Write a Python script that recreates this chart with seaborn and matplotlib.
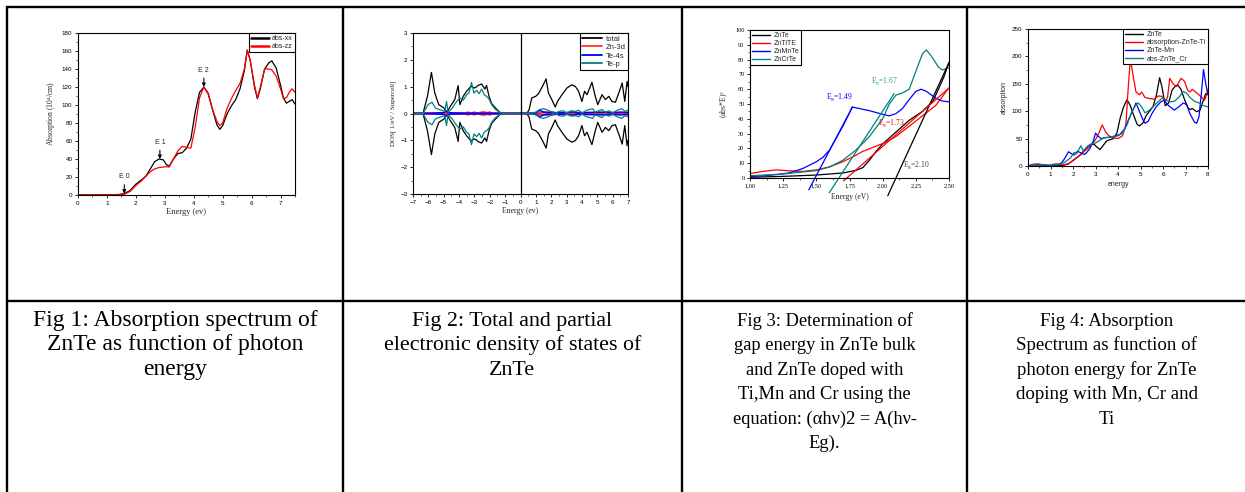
import numpy as np
import matplotlib
matplotlib.use("Agg")
import matplotlib.pyplot as plt
from matplotlib.lines import Line2D
from matplotlib.ticker import AutoMinorLocator, MultipleLocator, FuncFormatter
import seaborn as sns

# ---------------- data ----------------
# Fig 1: absorption spectrum of ZnTe (10^4 /cm) vs photon energy (eV)
e1 = [0, 1.0, 1.4, 1.6, 1.8, 2.0, 2.2, 2.35, 2.5, 2.65, 2.8, 2.95, 3.05, 3.15, 3.3, 3.45,
      3.6, 3.75, 3.9, 4.05, 4.2, 4.35, 4.5, 4.65, 4.8, 4.9, 5.0, 5.15, 5.3, 5.45, 5.6,
      5.75, 5.85, 5.95, 6.1, 6.2, 6.3, 6.45, 6.6, 6.7, 6.85, 7.0, 7.1, 7.2, 7.3, 7.4, 7.5]
abs_xx = [0, 0.3, 0.5, 1.5, 5, 12, 17, 21, 29, 37, 40, 39, 34, 32, 40, 46,
          47, 52, 62, 92, 114, 120, 113, 95, 78, 73, 77, 90, 99, 106, 118,
          138, 161, 150, 120, 107, 118, 140, 147, 149, 141, 122, 108, 102, 104, 106, 101]
abs_zz = [0, 0.2, 0.3, 0.8, 4, 10.5, 16, 21, 26, 29, 30.5, 31, 31.5, 31, 40, 49,
          54, 53, 52, 75, 108, 120, 112, 95, 82, 77, 80, 96, 107, 116, 124,
          140, 161, 150, 122, 108, 120, 140, 140, 139, 132, 118, 107, 108, 114, 118, 114]
peak_names = ["E 0", "E 1", "E 2"]
peak_energy = [1.6, 2.83, 4.35]
peak_abs = [1.5, 40, 120]

# Fig 2: total and partial DOS (states/eV/supercell), spin up mirrored for spin down
dos_total_e = [-7, -6.35, -6.06, -5.8, -5.58, -5.32, -4.97, -4.82, -4.6, -4.28, -4.06, -3.95,
               -3.73, -3.51, -3.23, -2.97, -2.75, -2.53, -2.32, -2.21, -2.05, -1.88, -1.62,
               -1.34, -1.12, 0.41, 0.56, 0.73, 0.99, 1.17, 1.43, 1.67, 1.82, 2.04, 2.26, 2.41,
               2.7, 3.02, 3.35, 3.57, 3.78, 4.0, 4.17, 4.33, 4.65, 4.87, 5.03, 5.31, 5.53,
               5.75, 5.96, 6.18, 6.44, 6.62, 6.79, 6.94, 7.0]
dos_total = [0, 0, 0.64, 1.53, 0.76, 0.33, 0.2, 0, 0.24, 0.52, 1.04, 0.33,
             0.64, 0.83, 1.01, 0.95, 1.05, 1.1, 0.91, 1.04, 0.64, 0.37, 0.2,
             0.04, 0, 0, 0.14, 0.58, 0.64, 0.74, 1.01, 1.29, 0.76, 0.52, 0.24, 0.45,
             0.7, 0.95, 1.07, 1.01, 0.83, 0.45, 0.83, 0.7, 1.16, 0.64, 0.33, 0.7, 0.52,
             0.64, 0.45, 0.42, 0.83, 1.14, 0.45, 1.2, 1.0]
dos_tep_e = [-7, -6.35, -6.02, -5.76, -5.54, -5.15, -4.93, -4.82, -4.71, -4.45, -4.23, -3.95,
             -3.73, -3.51, -3.36, -3.19, -3.03, -2.86, -2.69, -2.53, -2.36, -2.21, -2.05,
             -1.88, -1.66, -1.34, -1.12, 0.5, 1.0, 1.25, 1.5, 1.8, 2.05, 2.3, 2.5, 2.8, 3.0,
             3.3, 3.6, 3.8, 4.0, 4.3, 4.5, 4.7, 4.85, 5.0, 5.3, 5.5, 5.75, 6.0, 6.3, 6.6,
             6.8, 7.0]
dos_tep = [0, 0, 0.33, 0.42, 0.2, 0.12, 0.08, 0.45, 0.04, 0.2, 0.39, 0.58,
           0.49, 0.7, 0.76, 1.16, 0.76, 0.86, 0.74, 0.91, 0.7, 0.64, 0.54,
           0.33, 0.17, 0.03, 0, 0, 0.05, 0.15, 0.18, 0.12, 0.05, 0.0, 0.08, 0.1, 0.02,
           0.1, 0.08, 0.12, 0.02, 0.12, 0.15, 0.18, 0.05, 0.08, 0.15, 0.05, 0.1, 0.03, 0.12, 0.18,
           0.08, 0.12]
dos_te4s_e = [-7, -6.3, -5.5, -5.0, -4.85, -4.7, -4.3, -3.5, -2.0, -1.2, 0.5, 1.0, 1.25, 1.5,
              2.0, 3.0, 3.4, 3.8, 4.5, 5.5, 6.0, 6.5, 7.0]
dos_te4s = [0, 0, 0.02, 0.03, 0.1, 0.03, 0.02, 0.01, 0.01, 0, 0, 0.03, 0.12, 0.05,
            0.03, 0.03, 0.06, 0.02, 0.04, 0.05, 0.03, 0.05, 0.04]
dos_zn3d_e = [-7, -3.6, -3.4, -3.2, -3.0, -2.8, -2.6, -2.4, -2.2, -2.0, -1.8, -1.2, 0.5, 1.2,
              1.5, 1.8, 2.1, 2.3, 3.0, 3.3, 4.0, 5.0, 7.0]
dos_zn3d = [0, 0, 0.04, 0.0, 0.04, 0.0, 0.03, 0.05, 0.02, 0.04, 0, 0, 0, 0.02,
            0.05, 0.03, 0.05, 0.01, 0.02, 0.03, 0.02, 0.02, 0.02]

# Fig 3: Tauc plot (abs*E)^2 vs energy
tauc_names = ["ZnTe", "ZnTiTE", "ZnMnTe", "ZnCrTe"]
tauc_colors = ["#000000", "#ff0000", "#0000ff", "#008080"]
tauc_e = [
    [1.0, 1.25, 1.5, 1.7, 1.8, 1.85, 1.9, 1.95, 2.0, 2.05, 2.1, 2.15, 2.2, 2.3, 2.38, 2.42, 2.46, 2.5],
    [1.0, 1.1, 1.2, 1.3, 1.4, 1.5, 1.6, 1.7, 1.78, 1.85, 1.95, 2.02, 2.1, 2.2, 2.3, 2.4, 2.5],
    [1.0, 1.1, 1.2, 1.3, 1.4, 1.5, 1.55, 1.6, 1.65, 1.7, 1.75, 1.77, 1.82, 1.9, 2.0, 2.05, 2.1,
     2.15, 2.2, 2.25, 2.29, 2.33, 2.4, 2.45, 2.5],
    [1.0, 1.25, 1.5, 1.6, 1.7, 1.8, 1.9, 2.0, 2.05, 2.1, 2.15, 2.2, 2.25, 2.3, 2.33, 2.37, 2.42,
     2.45, 2.5],
]
tauc_y = [
    [0.5, 1.1, 2.0, 3.4, 5.2, 7, 12, 18, 23, 27, 31, 35, 39, 45, 52, 60, 68, 78],
    [3, 4.5, 5.5, 4.8, 4.5, 5.5, 7.5, 11, 14.5, 18, 21.5, 24, 28, 35, 42, 49, 61],
    [1, 1.5, 2.3, 3.5, 6.5, 11, 14, 19, 27, 35, 44, 48, 47, 45.5, 43, 42, 43.5,
     47, 53, 58.5, 60, 58.5, 54, 52, 51.5],
    [1.5, 2.7, 5, 7.5, 12, 19, 28, 40, 50, 56, 57.5, 60, 72, 84, 86.5, 82, 75,
     73, 74.5],
]
# linear extrapolation of each absorption edge: gap energy, slope, y span drawn
gap_energy = [2.10, 1.73, 1.49, 1.67]
edge_slope = [195, 79, 170, 137]
edge_span = [(-12, 78), (-2, 61), (-8, 48), (-10, 57)]
gap_label_pos = [(2.15, 4.5), (1.965, 33), (1.575, 51), (1.91, 61.5)]
gap_label_colors = ["#404040", "#ff0000", "#0000ff", "#2a9a9a"]

# Fig 4: absorption of pure and doped ZnTe
abs4_names = ["ZnTe", "absorption-ZnTe-Ti", "ZnTe-Mn", "abs-ZnTe_Cr"]
abs4_colors = ["#000000", "#ff0000", "#0000ff", "#008080"]
abs4_e = [
    [0, 1.0, 1.4, 1.6, 1.8, 2.0, 2.2, 2.35, 2.5, 2.65, 2.8, 2.95, 3.05, 3.2, 3.35, 3.5, 3.65,
     3.8, 3.95, 4.1, 4.25, 4.4, 4.55, 4.7, 4.85, 4.95, 5.1, 5.25, 5.4, 5.55, 5.7, 5.85, 5.95,
     6.1, 6.25, 6.4, 6.55, 6.65, 6.8, 6.95, 7.1, 7.2, 7.3, 7.5, 7.65, 7.8, 7.9, 8.0],
    [0, 0.3, 0.6, 0.9, 1.1, 1.25, 1.5, 1.8, 2.0, 2.3, 2.6, 2.8, 3.0, 3.15, 3.3, 3.45, 3.6,
     3.8, 4.0, 4.2, 4.35, 4.45, 4.55, 4.65, 4.8, 4.95, 5.05, 5.2, 5.4, 5.6, 5.8, 5.95, 6.1,
     6.2, 6.3, 6.45, 6.6, 6.8, 6.95, 7.1, 7.2, 7.3, 7.45, 7.6, 7.85, 7.95, 8.0],
    [0, 0.2, 0.45, 0.7, 1.0, 1.3, 1.5, 1.65, 1.8, 1.95, 2.05, 2.2, 2.35, 2.5, 2.6, 2.75, 2.9,
     3.0, 3.1, 3.25, 3.5, 3.7, 3.9, 4.1, 4.3, 4.5, 4.7, 4.8, 4.95, 5.1, 5.2, 5.35, 5.5, 5.7,
     5.9, 6.05, 6.25, 6.5, 6.7, 6.9, 7.05, 7.2, 7.4, 7.5, 7.6, 7.7, 7.8, 7.9, 8.0],
    [0, 0.2, 0.4, 0.7, 1.0, 1.3, 1.6, 1.9, 2.05, 2.15, 2.35, 2.45, 2.6, 2.8, 3.0, 3.2, 3.4,
     3.6, 3.8, 4.0, 4.2, 4.4, 4.6, 4.8, 4.9, 5.05, 5.2, 5.4, 5.6, 5.8, 6.0, 6.15, 6.3, 6.5,
     6.7, 6.9, 7.05, 7.2, 7.4, 7.6, 7.8, 8.0],
]
abs4_y = [
    [0, 0.3, 0.5, 1.5, 4, 10, 16, 21, 29, 36, 40, 39, 35, 30, 38, 46, 48,
     50, 60, 88, 108, 121, 110, 92, 76, 73, 78, 92, 100, 108, 128, 161, 145,
     110, 115, 138, 146, 148, 140, 122, 107, 103, 105, 99, 102, 121, 132, 130],
    [0, 1, 2, 1, 3, 4, 2, 4, 10, 20, 30, 38, 48, 60, 75, 62, 55,
     52, 50, 55, 75, 140, 196, 170, 135, 130, 135, 125, 123, 122, 128, 127, 118,
     125, 160, 150, 145, 160, 155, 138, 135, 140, 135, 130, 120, 132, 140],
    [0, 3, 3.5, 2, 0, 2, 6, 15, 26, 22, 20, 27, 24, 21, 24, 32, 45,
     60, 55, 50, 52, 53, 55, 58, 68, 88, 105, 115, 100, 85, 78, 82, 95, 108,
     117, 120, 110, 102, 108, 115, 112, 95, 80, 78, 90, 130, 176, 150, 130],
    [0, 2, 3.5, 2.5, 1.5, 2.5, 6, 15, 25, 22, 37, 28, 33, 40, 42, 47, 52,
     52, 54, 55, 60, 75, 98, 112, 115, 108, 97, 102, 110, 118, 125, 120, 117, 118,
     125, 136, 133, 125, 118, 115, 110, 108],
]

captions = [
    ["Fig 1: Absorption spectrum of", "ZnTe as function of photon", "energy"],
    ["Fig 2: Total and partial", "electronic density of states of", "ZnTe"],
    ["Fig 3: Determination of", "gap energy in ZnTe bulk", "and ZnTe doped with",
     "Ti,Mn and Cr using the", "equation: (\u03b1h\u03bd)2 = A(h\u03bd-", "Eg)."],
    ["Fig 4: Absorption", "Spectrum as function of", "photon energy for ZnTe",
     "doping with Mn, Cr and", "Ti"],
]
caption_sizes = [17.0, 15.8, 13.3, 13.6]

# ---------------- styling ----------------
sns.set_theme(style="ticks")
plt.rcParams["font.family"] = ["Liberation Sans", "DejaVu Sans"]
plt.rcParams["axes.linewidth"] = 0.8
plt.rcParams["mathtext.default"] = "regular"

W, H = 1245, 492
fig = plt.figure(figsize=(W / 100, H / 100), dpi=100)
fig.patch.set_facecolor("white")


def px_axes(left, top, right, bottom):
    return fig.add_axes([left / W, 1 - bottom / H, (right - left) / W, (bottom - top) / H])


def style_axes(ax, serif_ticks=False):
    ax.set_facecolor("white")
    for s in ax.spines.values():
        s.set_visible(True)
        s.set_color("black")
        s.set_linewidth(0.8)
    ax.xaxis.set_minor_locator(AutoMinorLocator(2))
    ax.yaxis.set_minor_locator(AutoMinorLocator(2))
    ax.tick_params(which="major", direction="out", length=2.5, width=0.6, labelsize=4.5,
                   pad=1.5, colors="black")
    ax.tick_params(which="minor", direction="out", length=1.4, width=0.5)
    fam = "Liberation Serif" if serif_ticks else "Liberation Sans"
    for lab in ax.get_xticklabels() + ax.get_yticklabels():
        lab.set_fontfamily(fam)


def boxed_legend(ax, loc, fontsize=5, handle_lw=None):
    leg = ax.legend(loc=loc, fontsize=fontsize, frameon=True, fancybox=False,
                    edgecolor="black", framealpha=1, borderaxespad=0, borderpad=0.3,
                    labelspacing=0.15, handlelength=2.6, handletextpad=0.5)
    leg.get_frame().set_linewidth(0.8)
    if handle_lw is not None:
        for h in leg.get_lines():
            h.set_linewidth(handle_lw)
    return leg


serif = "Liberation Serif"

# ---------------- Fig 1 ----------------
ax1 = px_axes(78, 33, 295, 195)
sns.lineplot(x=e1, y=abs_xx, ax=ax1, color="black", linewidth=0.9, label="abs-xx")
sns.lineplot(x=e1, y=abs_zz, ax=ax1, color="#ff0000", linewidth=0.9, label="abs-zz")
ax1.set_xlim(0, 7.5)
ax1.set_ylim(0, 180)
ax1.xaxis.set_major_locator(MultipleLocator(1))
ax1.yaxis.set_major_locator(MultipleLocator(20))
style_axes(ax1)
ax1.set_xlabel("Energy (ev)", fontsize=6, family=serif, labelpad=2)
ax1.set_ylabel("Absorption (10$^4$/cm)", fontsize=5.5, family=serif, labelpad=3)
boxed_legend(ax1, "upper right", fontsize=5, handle_lw=1.8)
for name, ex, ey in zip(peak_names, peak_energy, peak_abs):
    ax1.annotate(name, xy=(ex, ey), xytext=(ex, ey + 15), ha="center", va="bottom",
                 fontsize=5, family="Liberation Sans",
                 arrowprops=dict(arrowstyle="-|>", color="black", lw=0.8,
                                 mutation_scale=5, shrinkA=1, shrinkB=0))

# ---------------- Fig 2 ----------------
ax2 = px_axes(413, 33, 628, 194)
teal = "#008080"
sns.lineplot(x=dos_total_e, y=dos_total, ax=ax2, color="black", linewidth=0.9, label="total")
sns.lineplot(x=dos_total_e, y=-np.array(dos_total), ax=ax2, color="black", linewidth=0.9)
sns.lineplot(x=dos_zn3d_e, y=dos_zn3d, ax=ax2, color="#ff3030", linewidth=1.6, label="Zn-3d")
sns.lineplot(x=dos_zn3d_e, y=-np.array(dos_zn3d), ax=ax2, color="#ff3030", linewidth=1.6)
sns.lineplot(x=dos_te4s_e, y=dos_te4s, ax=ax2, color="#0000ff", linewidth=1.1, label="Te-4s")
sns.lineplot(x=dos_te4s_e, y=-np.array(dos_te4s), ax=ax2, color="#0000ff", linewidth=1.1)
sns.lineplot(x=dos_tep_e, y=dos_tep, ax=ax2, color=teal, linewidth=0.9, label="Te-p")
sns.lineplot(x=dos_tep_e, y=-np.array(dos_tep), ax=ax2, color=teal, linewidth=0.9)
ax2.axvline(0, color="black", linewidth=0.9)
ax2.set_xlim(-7, 7)
ax2.set_ylim(-3, 3)
ax2.xaxis.set_major_locator(MultipleLocator(1))
ax2.yaxis.set_major_locator(MultipleLocator(1))
style_axes(ax2)
ax2.set_xlabel("Energy (ev)", fontsize=5.5, family=serif, labelpad=2)
ax2.set_ylabel("DOS[ 1/eV / Supercell]", fontsize=5, family=serif, labelpad=3)
boxed_legend(ax2, "upper right", fontsize=5.5, handle_lw=1.3)

# ---------------- Fig 3 ----------------
ax3 = px_axes(750, 30, 949, 178)
for name, col, xe, ye in zip(tauc_names, tauc_colors, tauc_e, tauc_y):
    sns.lineplot(x=xe, y=ye, ax=ax3, color=col, linewidth=0.9, label=name)
for eg, k, (y0, y1), col in zip(gap_energy, edge_slope, edge_span, tauc_colors):
    ys = np.array([y0, y1], dtype=float)
    sns.lineplot(x=eg + ys / k, y=ys, ax=ax3, color=col, linewidth=0.9)
    ax3.lines[-1].set_clip_on(False)
for eg, (tx, ty), col in zip(gap_energy, gap_label_pos, gap_label_colors):
    ax3.text(tx, ty, "E$_g$=%.2f" % eg, color=col, fontsize=5.5, family=serif,
             ha="left", va="bottom")
ax3.set_xlim(1.0, 2.5)
ax3.set_ylim(0, 100)
ax3.xaxis.set_major_locator(MultipleLocator(0.25))
ax3.yaxis.set_major_locator(MultipleLocator(10))
ax3.xaxis.set_major_formatter(FuncFormatter(lambda v, p: ("%.2f" % v).replace(".", ",")))
style_axes(ax3, serif_ticks=True)
ax3.set_xlabel("Energy (eV)", fontsize=5.5, family=serif, labelpad=3)
ax3.set_ylabel("(abs*E)$^2$", fontsize=5.5, family=serif, labelpad=3)
boxed_legend(ax3, "upper left", fontsize=5, handle_lw=1.0)

# ---------------- Fig 4 ----------------
ax4 = px_axes(1028, 29, 1208, 166)
for name, col, xe, ye in zip(abs4_names, abs4_colors, abs4_e, abs4_y):
    sns.lineplot(x=xe, y=ye, ax=ax4, color=col, linewidth=0.9, label=name)
ax4.set_xlim(0, 8)
ax4.set_ylim(0, 250)
ax4.xaxis.set_major_locator(MultipleLocator(1))
ax4.yaxis.set_major_locator(MultipleLocator(50))
style_axes(ax4)
ax4.set_xlabel("energy", fontsize=5, labelpad=3)
ax4.set_ylabel("absorption", fontsize=5, labelpad=3)
boxed_legend(ax4, "upper right", fontsize=5, handle_lw=1.0)

# ---------------- table grid and captions ----------------
def hline(y, x0, x1):
    fig.add_artist(Line2D([x0 / W, x1 / W], [1 - y / H, 1 - y / H], color="black",
                          linewidth=1.7, solid_capstyle="butt"))


def vline(x, y0, y1):
    fig.add_artist(Line2D([x / W, x / W], [1 - y0 / H, 1 - y1 / H], color="black",
                          linewidth=1.7, solid_capstyle="butt"))


hline(7, 6, W)
hline(300.5, 6, W)
for xv in (7, 343, 682, 967):
    vline(xv, 6, H)

cell_centers = [175, 512.5, 824.5, 1106.5]
first_baseline, line_step = 326.0, 24.4
for cx, lines, fs in zip(cell_centers, captions, caption_sizes):
    for i, line in enumerate(lines):
        fig.text(cx / W, 1 - (first_baseline + i * line_step) / H, line, ha="center",
                 va="baseline", fontsize=fs, family=serif, color="black")

fig.savefig("out.png", dpi=100, facecolor="white")
